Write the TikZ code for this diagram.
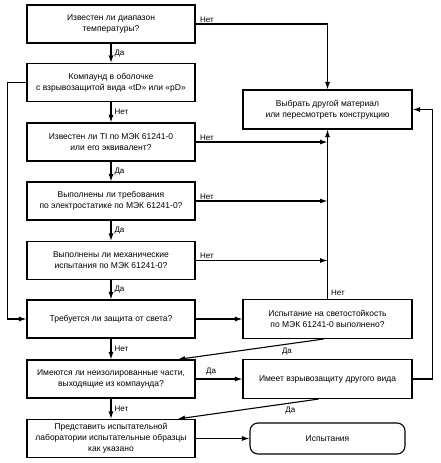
\documentclass[tikz,border=0pt]{standalone}
\usepackage{fontspec}
\setmainfont{Liberation Sans}
\usetikzlibrary{arrows.meta, positioning}

\begin{document}
\begin{tikzpicture}[x=1pt, y=-1pt,
  box/.style={draw, line width=1.1pt, minimum width=168pt, minimum height=38pt,
              inner sep=2pt, font=\fontsize{8.5}{11}\selectfont, align=center},
  rbox/.style={box, minimum width=169pt, minimum height=39pt},
  term/.style={box, rounded corners=8pt, minimum width=155pt, minimum height=31pt},
  arrow/.style={-{Latex[length=7.5pt, width=5pt]}, line width=1.1pt},
  lbl/.style={font=\fontsize{8}{9}\selectfont, inner sep=1pt}
]
  \useasboundingbox (0,0) rectangle (441,463);

  %--- Left column: questions ---
  \node[box] (temp)  at (111, 24)    {Известен ли диапазон\\температуры?};
  \node[box] (encl)  at (111, 82.5)  {Компаунд в оболочке\\с взрывозащитой вида «tD» или «pD»};
  \node[box] (ti)    at (111, 142)   {Известен ли TI по МЭК 61241-0\\или его эквивалент?};
  \node[box] (estat) at (111, 201)   {Выполнены ли требования\\по электростатике по МЭК 61241-0?};
  \node[box] (mech)  at (111, 260.5) {Выполнены ли механические\\испытания по МЭК 61241-0?};
  \node[box] (light) at (111, 319)   {Требуется ли защита от света?};
  \node[box] (bare)  at (111, 379)   {Имеются ли неизолированные части,\\выходящие из компаунда?};
  \node[box] (samp)  at (111, 438.5) {Представить испытательной\\лаборатории испытательные образцы\\как указано};

  %--- Right column ---
  \node[rbox] (redo)   at (327.5, 109.5) {Выбрать другой материал\\или пересмотреть конструкцию};
  \node[rbox] (lfast)  at (327.5, 319)   {Испытание на светостойкость\\по МЭК 61241-0 выполнено?};
  \node[rbox] (other)  at (327.5, 379)   {Имеет взрывозащиту другого вида};
  \node[term] (tests)  at (327.5, 438.5) {Испытания};

  % main flow
  \draw[arrow] (temp)  -- node[lbl, right=2pt] {Да}  (encl);
  \draw[arrow] (encl)  -- node[lbl, right=2pt] {Нет} (ti);
  \draw[arrow] (ti)    -- node[lbl, right=2pt] {Да}  (estat);
  \draw[arrow] (estat) -- node[lbl, right=2pt] {Да}  (mech);
  \draw[arrow] (mech)  -- node[lbl, right=2pt] {Да}  (light);
  \draw[arrow] (light) -- node[lbl, right=2pt] {Нет} (bare);
  \draw[arrow] (bare)  -- node[lbl, right=2pt] {Нет} (samp);

  % "Нет" branches to redo
  \draw[arrow] (temp.east) -- node[lbl, pos=0, anchor=south west, xshift=3pt] {Нет}
    (temp.east -| redo.north) -- (redo.north);
  \draw[arrow] (ti.east) -- node[lbl, pos=0, anchor=south west, xshift=3pt] {Нет} (ti.east -| redo.south);
  \draw[arrow] (estat.east) -- node[lbl, pos=0, anchor=south west, xshift=3pt] {Нет} (estat.east -| redo.south);
  \draw[arrow] (mech.east) -- node[lbl, pos=0, anchor=south west, xshift=3pt] {Нет} (mech.east -| redo.south);
  \draw[arrow] (lfast.north) -- node[lbl, pos=0, anchor=south west, xshift=2pt, yshift=2pt] {Нет} (redo.south);

  % loops
  \draw[arrow] (encl.west) -- ++(-19,0) |- (light.west);
  \draw[arrow] (other.east) -- ++(20,0) |- (redo.east);

  % "Да" branches
  \draw[arrow] (light) -- (lfast);
  \draw[arrow] (bare) -- node[lbl, pos=0, anchor=south west, xshift=9pt, yshift=2pt] {Да} (other);
  \draw[arrow] ([xshift=-4pt]lfast.south) -- node[lbl, pos=0.25, below=2pt] {Да} ([xshift=-18pt]bare.north east);
  \draw[arrow] ([xshift=-9pt]other.south) -- node[lbl, pos=0.2, below=2pt] {Да} ([xshift=-18pt]samp.north east);
  \draw[arrow] (samp) -- (tests);

\end{tikzpicture}
\end{document}
